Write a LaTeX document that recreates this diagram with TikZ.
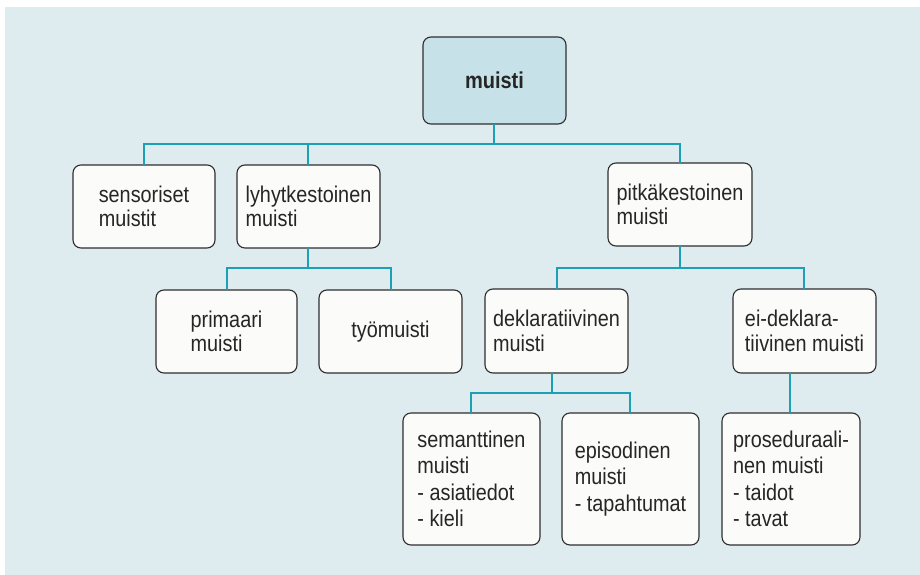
\documentclass[tikz,border=0pt]{standalone}
\usepackage{fontspec}
\setmainfont{Liberation Sans}[FakeStretch=0.87]
\definecolor{bgblue}{HTML}{DEEBEF}
\definecolor{topfill}{HTML}{C6E2E8}
\definecolor{boxfill}{HTML}{FBFBFA}
\definecolor{linkteal}{HTML}{1CA0B6}
\definecolor{edgegrey}{HTML}{2E2E2E}
\definecolor{txtgrey}{HTML}{262626}
\begin{document}
\begin{tikzpicture}[x=1pt,y=-1pt,
  membox/.style={draw=edgegrey, line width=1.1pt, rounded corners=8pt, fill=boxfill},
  memtext/.style={text=txtgrey, align=left, inner sep=0pt,
    font=\fontsize{22.8}{24.5}\selectfont},
  lowtext/.style={memtext, font=\fontsize{22.8}{26.5}\selectfont},
  link/.style={draw=linkteal, line width=2.3pt}]
\useasboundingbox (0,0) rectangle (920,575);
\fill[white] (0,0) rectangle (920,575);
\fill[bgblue] (5,7) rectangle (920,575);

\path[membox, fill=topfill] (423,37) rectangle (566,124);
\node (root) [text=txtgrey, font=\fontsize{23}{24}\selectfont\bfseries, inner sep=0pt] at (494.5,80) {muisti};
\coordinate (rootb) at (494,124);

\path[membox] (73,165) rectangle (215,248);
\node (sens) [memtext] at (144,206.5) {sensoriset\\muistit};
\path[membox] (237,165) rectangle (380,248);
\node (lyhyt) [memtext] at (308.5,206.5) {lyhytkestoinen\\muisti};
\path[membox] (608,163) rectangle (752,246);
\node (pitka) [memtext] at (680,204.5) {pitkäkestoinen\\muisti};

\path[membox] (156,290) rectangle (297,373);
\node (prim) [memtext] at (226.5,331.5) {primaari\\muisti};
\path[membox] (319,290) rectangle (462,373);
\node (tyo) [memtext] at (390.5,331.5) {työmuisti};
\path[membox] (485,289) rectangle (628,373);
\node (dekl) [memtext] at (556.5,331) {deklaratiivinen\\muisti};
\path[membox] (733,289) rectangle (876,373);
\node (eidekl) [memtext] at (804.5,331) {ei-deklara-\\tiivinen muisti};

\path[membox] (403,413) rectangle (540,545);
\node (sem) [lowtext] at (471.5,479) {semanttinen\\muisti\\- asiatiedot\\- kieli};
\path[membox] (562,413) rectangle (699,545);
\node (epi) [lowtext] at (630.5,479) {episodinen\\muisti\\- tapahtumat};
\path[membox] (722,413) rectangle (860,545);
\node (pros) [lowtext] at (791,479) {proseduraali-\\nen muisti\\- taidot\\- tavat};

% connector anchor points on box edges
\coordinate (sensT) at (144,165);
\coordinate (lyhytT) at (308,165);
\coordinate (lyhytB) at (308,248);
\coordinate (pitkaT) at (680,163);
\coordinate (pitkaB) at (680,246);
\coordinate (primT) at (227,290);
\coordinate (tyoT) at (391,290);
\coordinate (deklT) at (557,289);
\coordinate (deklB) at (552,373);
\coordinate (eideklT) at (804,289);
\coordinate (eideklB) at (790,373);
\coordinate (semT) at (471,413);
\coordinate (epiT) at (630,413);
\coordinate (prosT) at (790,413);

\draw[link] (rootb) -- (494,144);
\draw[link] (sensT) |- (pitkaT |- 0,144) -- (pitkaT);
\draw[link] (lyhytT) -- (lyhytT |- 0,144);
\draw[link] (lyhytB) -- (308,268);
\draw[link] (primT) |- (tyoT |- 0,268) -- (tyoT);
\draw[link] (pitkaB) -- (680,268);
\draw[link] (deklT) |- (eideklT |- 0,268) -- (eideklT);
\draw[link] (deklB) -- (552,393);
\draw[link] (semT) |- (epiT |- 0,393) -- (epiT);
\draw[link] (eideklB) -- (prosT);
\end{tikzpicture}
\end{document}
